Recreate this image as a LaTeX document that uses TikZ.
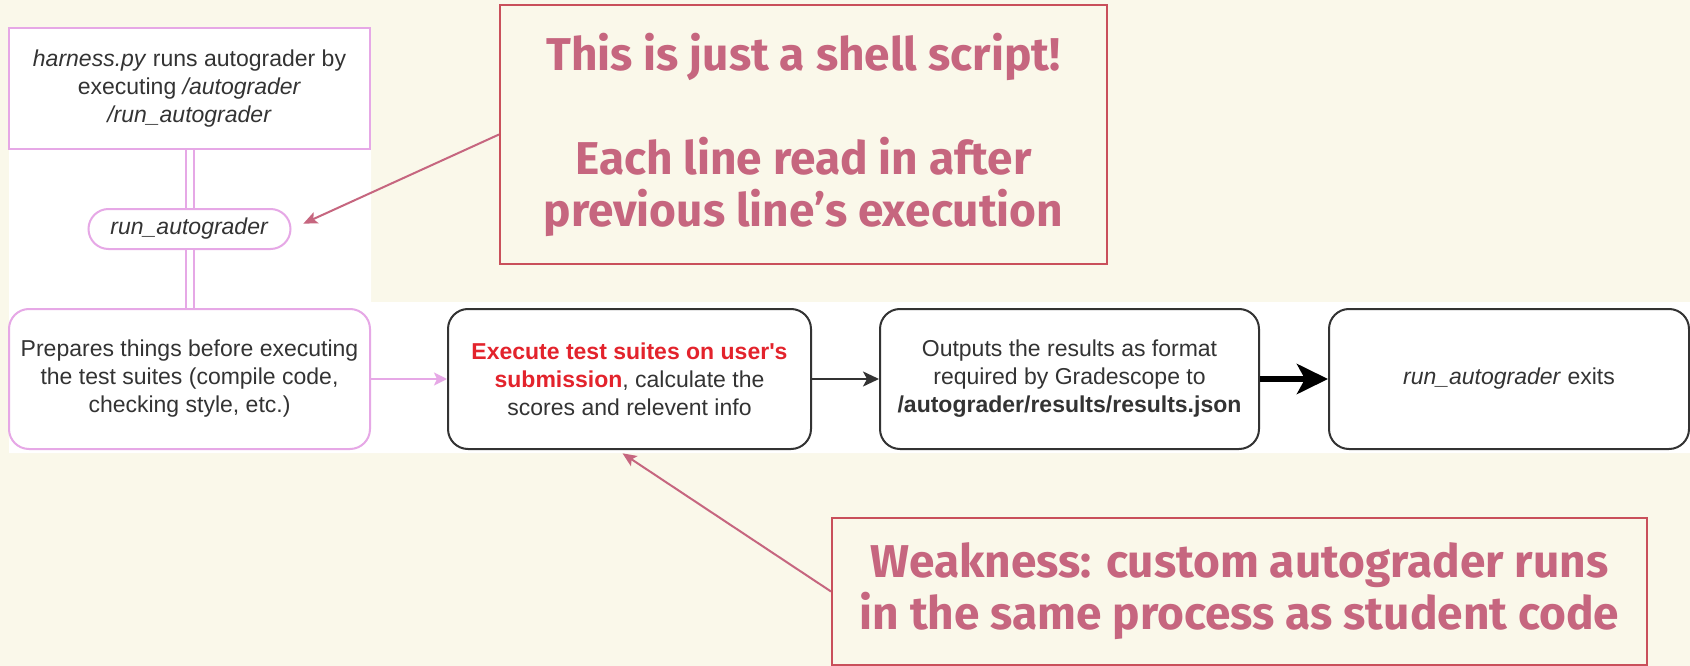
\documentclass[tikz,border=0pt]{standalone}
\usepackage{fontspec}
\usepackage{xcolor}
\usetikzlibrary{arrows.meta}

\newfontfamily\flowfont{Liberation Sans}
\newfontfamily\notefont{Fira Sans}

\definecolor{paper}{HTML}{FAF8EA}
\definecolor{flowpink}{HTML}{E6A8E6}
\definecolor{flowink}{HTML}{333333}
\definecolor{hotred}{HTML}{E3232C}
\definecolor{noteedge}{HTML}{C9505B}
\definecolor{notetext}{HTML}{C6667F}

\begin{document}
\begin{tikzpicture}[x=1pt,y=-1pt,
    flowtext/.style={align=center, text=flowink, inner sep=0pt,
      font=\flowfont\fontsize{23}{28}\selectfont},
    pinkbox/.style={flowtext, draw=flowpink, line width=2pt, fill=white},
    inkbox/.style={flowtext, draw=flowink, line width=2pt, fill=white,
      rounded corners=20pt, minimum height=140pt},
    notebox/.style={draw=noteedge, line width=2pt, align=center, text=notetext,
      font=\notefont\bfseries\fontsize{46}{52}\selectfont},
    notearrow/.style={draw=notetext, line width=2pt,
      -{Stealth[length=14pt,width=12pt,inset=3pt]}}]

    % page and the white strip behind the flowchart
    \useasboundingbox (0,0) rectangle (1690,666);
    \fill[paper] (0,0) rectangle (1690,666);
    \fill[white] (9,28) -- (371,28) -- (371,302) -- (1690,302)
      -- (1690,453) -- (9,453) -- cycle;

    % Column 1 - harness, run_autograder, preparation
    \node[pinkbox, minimum width=361pt, minimum height=121pt] (harness) at (189.5,88.5)
      {\textit{harness.py} runs autograder by\\ executing \textit{/autograder}\\ \textit{/run\_autograder}};
    \node[pinkbox, minimum width=202pt, minimum height=40pt, rounded corners=20pt] (pill) at (189.5,229)
      {\textit{run\_autograder}};
    \node[pinkbox, minimum width=361pt, minimum height=140pt, rounded corners=20pt] (prep) at (189.5,379)
      {Prepares things before executing\\ the test suites (compile code,\\ checking style, etc.)};
    \draw[flowpink, line width=2pt, double=white, double distance=6pt] (harness.south) -- (pill.north);
    \draw[flowpink, line width=2pt, double=white, double distance=6pt] (pill.south) -- (prep.north);

    % Row of steps
    \node[inkbox, minimum width=363pt] (exec) at (629.5,379)
      {\textcolor{hotred}{\bfseries Execute test suites on user's}\\
       \textcolor{hotred}{\bfseries submission}, calculate the\\ scores and relevent info};
    \node[inkbox, minimum width=379pt] (outputs) at (1069.5,379)
      {Outputs the results as format\\ required by Gradescope to\\ \textbf{/autograder/results/results.json}};
    \node[inkbox, minimum width=360pt] (exit) at (1509,379)
      {\textit{run\_autograder} exits};

    \draw[flowpink, line width=2pt, -{Stealth[length=13pt,width=13pt,inset=3pt]}] (prep) -- (exec);
    \draw[flowink, line width=2pt, -{Stealth[length=16pt,width=15pt,inset=4pt]}] (exec) -- (outputs);
    \draw[black, line width=6pt, -{Stealth[length=31pt,width=30pt,inset=8pt]}] (outputs) -- (exit);

    % Callouts
    \node[notebox, minimum width=607pt, minimum height=259pt] (note1) at (803.5,134.5)
      {This is just a shell script!\\[52pt] Each line read in after\\ previous line’s execution};
    \node[notebox, minimum width=815pt, minimum height=147pt] (note2) at (1239.5,591.5)
      {Weakness: custom autograder runs\\ in the same process as student code};

    \draw[notearrow, shorten >=13pt] (note1.west) -- (pill.east);
    \draw[notearrow, shorten >=6pt] (note2.west) -- ([xshift=-12pt]exec.south);

\end{tikzpicture}
\end{document}
